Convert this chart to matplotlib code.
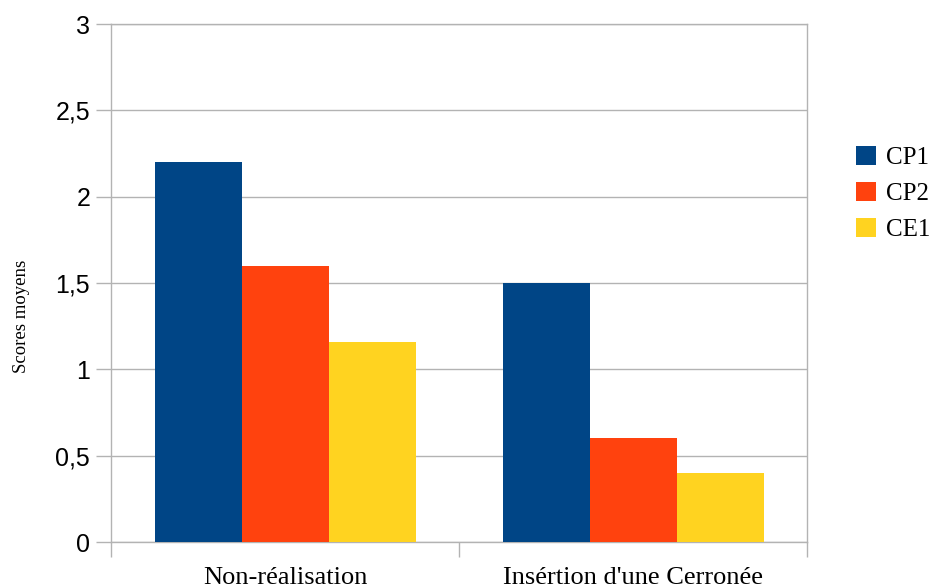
import matplotlib.pyplot as plt
import numpy as np

categories = ["Non-réalisation", "Insértion d'une Cerronée"]
series = ["CP1", "CP2", "CE1"]
cp1 = [2.2, 1.5]
cp2 = [1.6, 0.6]
ce1 = [1.16, 0.4]
colors = ["#004586", "#ff420e", "#ffd320"]
yticks = [0, 0.5, 1, 1.5, 2, 2.5, 3]
ytick_labels = ["0", "0,5", "1", "1,5", "2", "2,5", "3"]

serif = ["Liberation Serif", "DejaVu Serif"]
sans = ["Liberation Sans", "DejaVu Sans"]

fig = plt.figure(figsize=(9.32, 5.88), dpi=100)
ax = fig.add_axes([111 / 932, 1 - 542 / 588, (807 - 111) / 932, (542 - 24) / 588])

x = np.arange(len(categories))
w = 0.25
for i, (name, vals) in enumerate(zip(series, [cp1, cp2, ce1])):
    ax.bar(x + (i - 1) * w, vals, w, color=colors[i], label=name, zorder=3)

ax.set_xlim(-0.5, 1.5)
ax.set_ylim(0, 3)
ax.set_yticks(yticks)
ax.set_yticklabels(ytick_labels, fontfamily=sans, fontsize=18)
ax.set_xticks([-0.5, 0.5, 1.5])
ax.set_xticklabels([])
ax.set_xticks(x, minor=True)
ax.set_xticklabels(categories, minor=True, fontfamily=serif, fontsize=19)
ax.tick_params(axis="x", which="minor", length=0, pad=18)
ax.tick_params(axis="x", which="major", length=11, color="#b3b3b3", width=1)
ax.tick_params(axis="y", length=11, color="#b3b3b3", width=1, pad=4)
ax.grid(axis="y", color="#b3b3b3", linewidth=1, zorder=0)
for s in ax.spines.values():
    s.set_color("#b3b3b3")
    s.set_linewidth(1)

ax.set_ylabel("Scores moyens", fontfamily=serif, fontsize=13.5)
ax.yaxis.set_label_coords(-0.117, 0.436)

leg = ax.legend(loc="upper left", bbox_to_anchor=(1.07, 0.765), frameon=False,
                prop={"family": serif, "size": 18}, handlelength=0.8,
                handleheight=0.8, handletextpad=0.4, labelspacing=0.52,
                borderpad=0, borderaxespad=0)

plt.savefig("out.png", dpi=100)
